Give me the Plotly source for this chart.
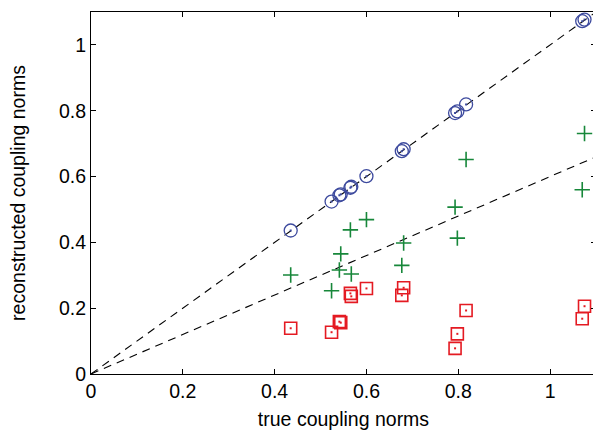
import plotly.graph_objects as go

true_norms = [0.435, 0.524, 0.541, 0.544, 0.565, 0.567, 0.600, 0.677, 0.681,
              0.793, 0.798, 0.817, 1.070, 1.075]
recon_circle = [0.436, 0.524, 0.543, 0.546, 0.566, 0.569, 0.601, 0.677, 0.683,
                0.793, 0.798, 0.819, 1.072, 1.077]
recon_plus = [0.301, 0.253, 0.316, 0.365, 0.438, 0.304, 0.469, 0.330, 0.398,
              0.507, 0.413, 0.652, 0.560, 0.731]
recon_square = [0.139, 0.127, 0.159, 0.156, 0.245, 0.236, 0.260, 0.239, 0.262,
                0.078, 0.122, 0.193, 0.168, 0.206]

line_x = [0, 1.1]
line_y_full = [0, 1.1]
line_y_part = [0, 0.66]

x_ticks = [0, 0.2, 0.4, 0.6, 0.8, 1]
x_labels = ["0", "0.2", "0.4", "0.6", "0.8", "1"]
y_ticks = [0, 0.2, 0.4, 0.6, 0.8, 1]
y_labels = ["0", "0.2", "0.4", "0.6", "0.8", "1"]

blue = "#3d4a9e"
green = "#17873a"
red = "#e41a22"
FONT = "Liberation Sans, Arial, sans-serif"

fig = go.Figure()
for ly in (line_y_full, line_y_part):
    fig.add_trace(go.Scatter(x=line_x, y=ly, mode="lines",
                             line=dict(color="black", width=1.1, dash="8px,6px"),
                             hoverinfo="skip", cliponaxis=True))

fig.add_trace(go.Scatter(x=true_norms, y=recon_circle, mode="markers", cliponaxis=False,
                         marker=dict(symbol="circle-open", size=13,
                                     color=blue, line=dict(width=1.3, color=blue))))
fig.add_trace(go.Scatter(x=true_norms, y=recon_plus, mode="markers", cliponaxis=False,
                         marker=dict(symbol="cross-thin-open", size=11,
                                     color=green, line=dict(width=1.6, color=green))))
fig.add_trace(go.Scatter(x=true_norms, y=recon_square, mode="markers", cliponaxis=False,
                         marker=dict(symbol="square-open", size=12,
                                     color=red, line=dict(width=1.6, color=red))))
# centre dots
for ys, c in ((recon_circle, blue), (recon_square, red)):
    fig.add_trace(go.Scatter(x=true_norms, y=ys, mode="markers", cliponaxis=False,
                             marker=dict(symbol="square", size=2, color=c,
                                         line=dict(width=0))))

axis_common = dict(showgrid=False, zeroline=False, showline=True,
                   linecolor="black", linewidth=1, mirror="ticks",
                   ticks="inside", ticklen=5, tickwidth=1, tickcolor="black",
                   tickfont=dict(family=FONT, size=19.5, color="black"))

fig.update_layout(
    width=596, height=434,
    margin=dict(l=91, r=0, t=12, b=60),
    paper_bgcolor="white", plot_bgcolor="white",
    showlegend=False,
    font=dict(family=FONT, size=19.5, color="black"),
    xaxis=dict(range=[0, 1.1], tickvals=x_ticks, ticktext=x_labels,
               title=dict(text="true coupling norms", standoff=10,
                          font=dict(family=FONT, size=19.5)), **axis_common),
    yaxis=dict(range=[0, 1.1], tickvals=y_ticks, ticktext=y_labels,
               title=dict(text="reconstructed coupling norms", standoff=28,
                          font=dict(family=FONT, size=19.5)), **axis_common),
)

fig.write_html("out.html", config={"displayModeBar": False},
               post_script="document.body.style.margin='0';"
                           "document.body.style.overflow='hidden';"
                           "document.documentElement.style.overflow='hidden';")
